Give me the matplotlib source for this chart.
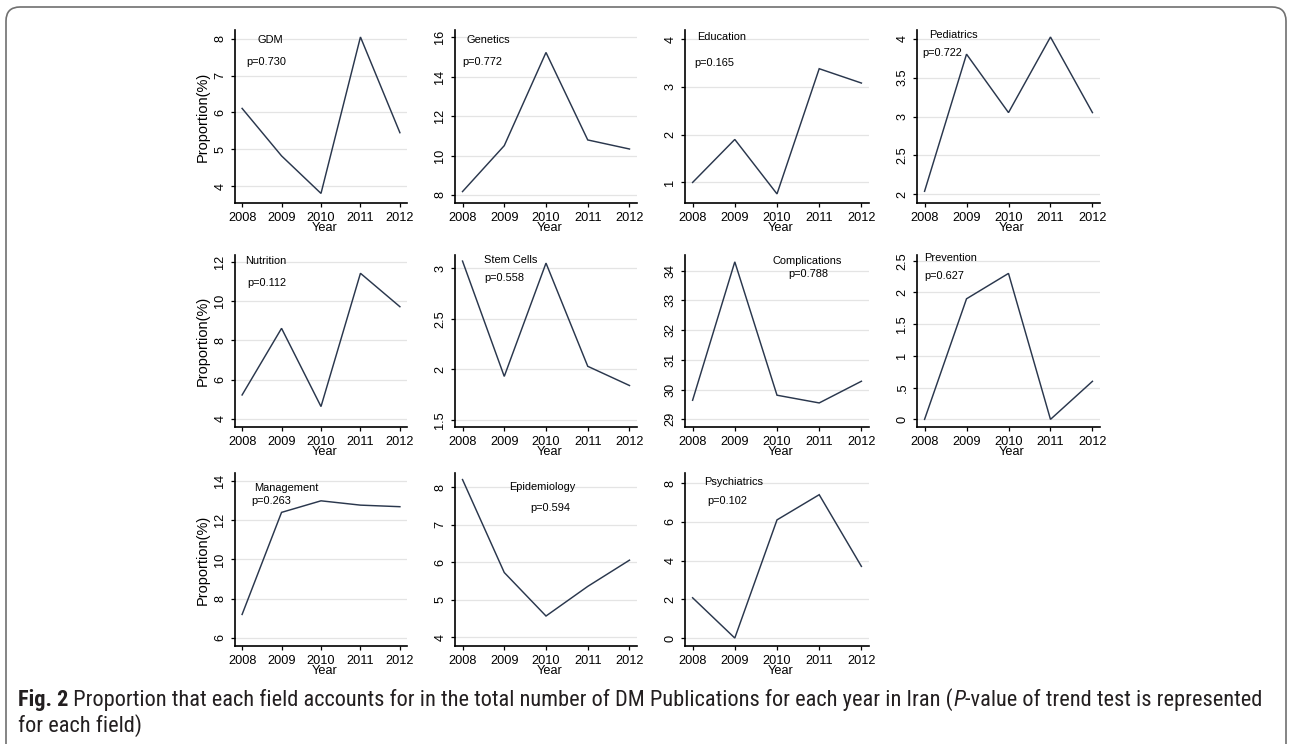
import matplotlib
matplotlib.use("Agg")
import matplotlib.pyplot as plt
from matplotlib import font_manager
from matplotlib.patches import FancyBboxPatch
from matplotlib.transforms import IdentityTransform

# ---------------------------------------------------------------- data
years = [2008, 2009, 2010, 2011, 2012]

gdm = [6.11, 4.82, 3.80, 8.05, 5.45]
genetics = [8.17, 10.50, 15.23, 10.79, 10.33]
education = [1.00, 1.90, 0.76, 3.38, 3.08]
pediatrics = [2.04, 3.80, 3.05, 4.02, 3.05]
nutrition = [5.22, 8.61, 4.63, 11.41, 9.71]
stem_cells = [3.07, 1.93, 3.05, 2.03, 1.84]
complications = [29.64, 34.30, 29.81, 29.55, 30.28]
prevention = [0.00, 1.90, 2.30, 0.00, 0.60]
management = [7.19, 12.40, 12.99, 12.77, 12.69]
epidemiology = [8.20, 5.72, 4.56, 5.35, 6.05]
psychiatrics = [2.08, 0.00, 6.10, 7.40, 3.70]

fields = ["GDM", "Genetics", "Education", "Pediatrics",
          "Nutrition", "Stem Cells", "Complications", "Prevention",
          "Management", "Epidemiology", "Psychiatrics"]
p_values = ["0.730", "0.772", "0.165", "0.722",
            "0.112", "0.558", "0.788", "0.627",
            "0.263", "0.594", "0.102"]
series = [gdm, genetics, education, pediatrics,
          nutrition, stem_cells, complications, prevention,
          management, epidemiology, psychiatrics]

y_ticks = [
    [4, 5, 6, 7, 8],
    [8, 10, 12, 14, 16],
    [1, 2, 3, 4],
    [2, 2.5, 3, 3.5, 4],
    [4, 6, 8, 10, 12],
    [1.5, 2, 2.5, 3],
    [29, 30, 31, 32, 33, 34],
    [0, 0.5, 1, 1.5, 2, 2.5],
    [6, 8, 10, 12, 14],
    [4, 5, 6, 7, 8],
    [0, 2, 4, 6, 8],
]
y_tick_labels = [
    ["4", "5", "6", "7", "8"],
    ["8", "10", "12", "14", "16"],
    ["1", "2", "3", "4"],
    ["2", "2.5", "3", "3.5", "4"],
    ["4", "6", "8", "10", "12"],
    ["1.5", "2", "2.5", "3"],
    ["29", "30", "31", "32", "33", "34"],
    ["0", ".5", "1", "1.5", "2", "2.5"],
    ["6", "8", "10", "12", "14"],
    ["4", "5", "6", "7", "8"],
    ["0", "2", "4", "6", "8"],
]

# ---------------------------------------------------------------- layout
y_limits = [
    (3.54, 8.24), (7.59, 16.37), (0.57, 4.19), (1.89, 4.11),
    (3.59, 12.34), (1.43, 3.13), (28.74, 34.53), (-0.12, 2.59),
    (5.58, 14.41), (3.76, 8.375), (-0.41, 8.52),
]
x_limits = (2007.82, 2012.18)

# label anchors: (x, y, ha) for the field name and the p-value
label_spots = [
    ((2008.72, 7.97, "center"), (2008.62, 7.38, "center")),
    ((2008.62, 15.86, "center"), (2008.48, 14.76, "center")),
    ((2008.68, 4.05, "center"), (2008.52, 3.50, "center")),
    ((2008.10, 4.04, "left"), (2007.95, 3.81, "left")),
    ((2008.60, 12.05, "center"), (2008.62, 10.90, "center")),
    ((2009.15, 3.08, "center"), (2009.00, 2.90, "center")),
    ((2010.72, 34.34, "center"), (2010.75, 33.89, "center")),
    ((2008.00, 2.55, "left"), (2008.00, 2.26, "left")),
    ((2009.13, 13.66, "center"), (2008.75, 12.98, "center")),
    ((2009.90, 8.00, "center"), (2010.10, 7.44, "center")),
    ((2008.98, 8.05, "center"), (2008.83, 7.08, "center")),
]

W, H = 1292, 744
col_left = [235, 455, 685, 917]
col_right = [407, 637, 869, 1100]
row_top = [30, 255, 473]
row_bottom = [203, 427, 646]


def pick(*names):
    avail = {f.name for f in font_manager.fontManager.ttflist}
    for n in names:
        if n in avail:
            return n
    return "DejaVu Sans"


narrow = pick("Liberation Sans Narrow", "DejaVu Sans Condensed", "Liberation Sans")
sans = pick("Liberation Sans", "Arial", "DejaVu Sans")
caption_font = pick("Roboto Condensed", "Open Sans Condensed", "Liberation Sans Narrow", "Roboto")

LINE = "#2a374d"
GRID = "#e4e4e4"
TICK_SIZE = 9.2

fig = plt.figure(figsize=(W / 100, H / 100), dpi=100)
fig.patch.set_facecolor("white")

for i, (name, pv, vals) in enumerate(zip(fields, p_values, series)):
    r, c = divmod(i, 4)
    left = col_left[c] / W
    bottom = (H - row_bottom[r]) / H
    width = (col_right[c] - col_left[c]) / W
    height = (row_bottom[r] - row_top[r]) / H
    ax = fig.add_axes([left, bottom, width, height])

    ax.plot(years, vals, color=LINE, lw=1.05, solid_joinstyle="miter")

    ax.set_xlim(*x_limits)
    ax.set_ylim(*y_limits[i])
    ax.set_xticks(years)
    ax.set_xticklabels([str(y) for y in years], fontfamily=narrow,
                       fontsize=TICK_SIZE)
    ax.set_yticks(y_ticks[i])
    ax.set_yticklabels(y_tick_labels[i], rotation=90, va="center",
                       fontfamily=narrow, fontsize=TICK_SIZE)
    ax.tick_params(direction="out", length=3.2, width=0.9, pad=3.0, colors="black")

    for side in ("top", "right"):
        ax.spines[side].set_visible(False)
    for side in ("left", "bottom"):
        ax.spines[side].set_linewidth(1.2)
        ax.spines[side].set_color("black")

    ax.yaxis.grid(True, color=GRID, lw=0.9)
    ax.set_axisbelow(True)

    (tx, ty, tha), (px, py, pha) = label_spots[i]
    ax.text(tx, ty, name, ha=tha, va="center", fontfamily=sans, fontsize=7.9)
    ax.text(px, py, "p=" + pv, ha=pha, va="center", fontfamily=sans, fontsize=7.9)

    ax.annotate("Year", xy=(2010, 0), xycoords=("data", "axes fraction"),
                xytext=(2.5, -17.8), textcoords="offset points",
                ha="center", va="center", fontfamily=narrow, fontsize=TICK_SIZE)

    if c == 0:
        ax.annotate("Proportion(%)", xy=(0, 0.5), xycoords="axes fraction",
                    xytext=(-23.0, 0), textcoords="offset points",
                    ha="center", va="center", rotation=90,
                    fontfamily=narrow, fontsize=10.5)

# rounded page frame
frame = FancyBboxPatch((6, -30), W - 12, H - 7 + 30,
                       boxstyle="round,pad=0,rounding_size=14",
                       transform=IdentityTransform(), fill=False,
                       edgecolor="#707070", lw=1.2, clip_on=False)
fig.add_artist(frame)

# caption, assembled from differently styled runs
renderer = fig.canvas.get_renderer()
line1 = [("Fig. 2", "bold", "normal"),
         (" Proportion that each field accounts for in the total number of DM "
          "Publications for each year in Iran (", "normal", "normal"),
         ("P", "normal", "italic"),
         ("-value of trend test is represented", "normal", "normal")]
line2 = [("for each field)", "normal", "normal")]

# find a size that makes the first line span the page width
probe = 10.0
total = 0.0
for txt, wt, st in line1:
    t = fig.text(0, 0, txt, fontfamily=caption_font, fontweight=wt,
                 fontstyle=st, fontsize=probe)
    total += t.get_window_extent(renderer).width
    t.remove()
cap_size = probe * (1252 - 18) / total


def draw_runs(runs, x0, y_px):
    x = x0
    for txt, wt, st in runs:
        t = fig.text(x / W, (H - y_px) / H, txt, fontfamily=caption_font,
                     fontweight=wt, fontstyle=st, fontsize=cap_size,
                     color="#231f20", ha="left", va="center")
        x += t.get_window_extent(renderer).width


draw_runs(line1, 18, 700)
draw_runs(line2, 18, 726)

fig.savefig("out.png", dpi=100, facecolor="white")
